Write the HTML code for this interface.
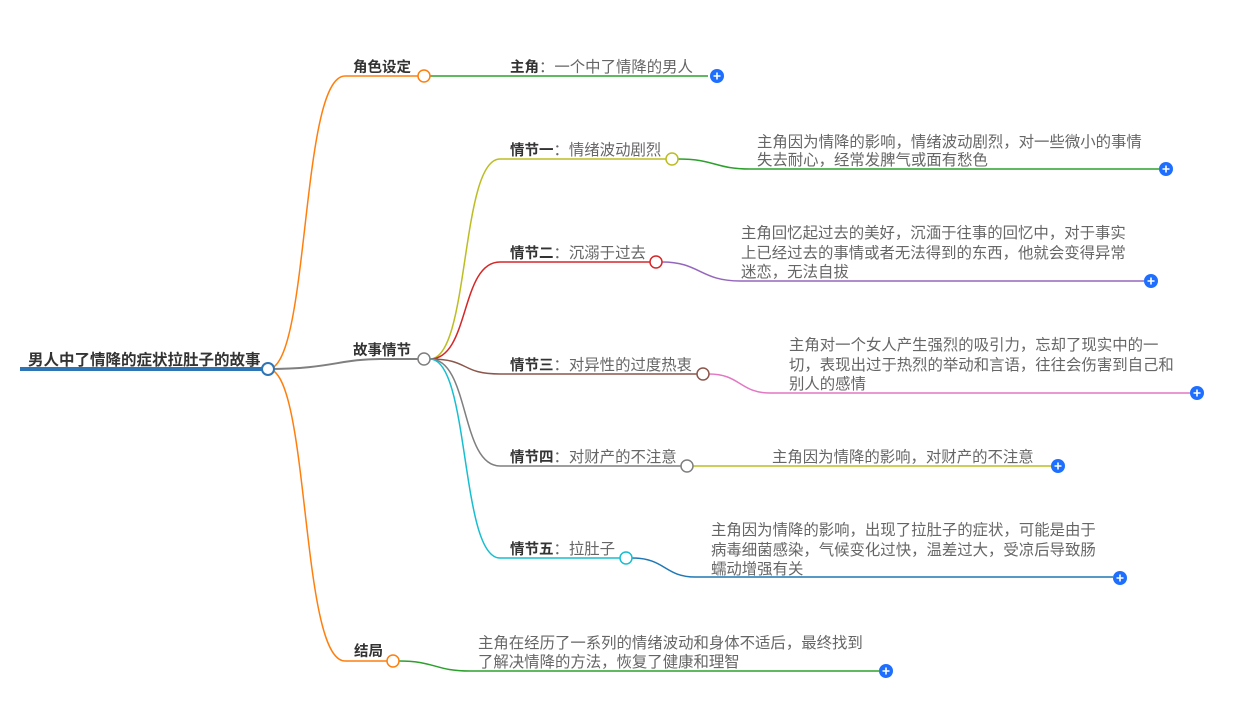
<!DOCTYPE html><html><head><meta charset="utf-8"><style>body{margin:0;background:#fff}svg{display:block}text{font-family:"Liberation Sans","Noto Sans CJK SC",sans-serif;font-size:15.4px;fill:#666}.b{font-weight:bold;fill:#333}</style></head><body>
<svg width="1245" height="713" viewBox="0 0 1245 713" xmlns="http://www.w3.org/2000/svg">
<defs><g id="p"><circle r="7" fill="#1e6fff"/><path d="M-3.5 0H3.5M0 -3.5V3.5" stroke="#fff" stroke-width="1.6"/></g></defs>
<g fill="none" stroke-width="1.5">
<path d="M268 369 C310 369 300 76 345 76 H418" stroke="#ff7f0e"/>
<path d="M268 369 C310 369 300 661 345 661 H387" stroke="#ff7f0e"/>
<path d="M268 369 C330 369 340 359 380 359 H418" stroke="#7f7f7f" stroke-width="2"/>
<path d="M430 76 H708" stroke="#2ca02c"/>
<path d="M430 359 C470 359 460 159 500 159 H666" stroke="#bcbd22"/>
<path d="M430 359 C470 359 460 262 500 262 H650" stroke="#d62728"/>
<path d="M430 359 C470 359 460 374 500 374 H697" stroke="#8c564b"/>
<path d="M430 359 C470 359 460 466 500 466 H681" stroke="#7f7f7f"/>
<path d="M430 359 C470 359 460 558 500 558 H620" stroke="#17becf"/>
<path d="M678 159 C715 159 715 169 750 169 H1159" stroke="#2ca02c"/>
<path d="M662 262 C700 262 700 281 740 281 H1144" stroke="#9467bd"/>
<path d="M709 374 C740 374 740 393 770 393 H1190" stroke="#e377c2"/>
<path d="M693 466 H1051" stroke="#bcbd22"/>
<path d="M632 558 C665 558 665 577 695 577 H1113" stroke="#1f77b4"/>
<path d="M399 661 C435 661 435 671 470 671 H879" stroke="#2ca02c"/>
<path d="M20 369 H262" stroke="#2e75b6" stroke-width="4"/>
</g>
<g fill="#fff" stroke-width="1.5">
<circle cx="268" cy="369" r="6" stroke="#2e75b6" stroke-width="2"/>
<circle cx="424" cy="76" r="6" stroke="#ff7f0e"/>
<circle cx="424" cy="359" r="6" stroke="#7f7f7f"/>
<circle cx="393" cy="661" r="6" stroke="#ff7f0e"/>
<circle cx="672" cy="159" r="6" stroke="#bcbd22"/>
<circle cx="656" cy="262" r="6" stroke="#d62728"/>
<circle cx="703" cy="374" r="6" stroke="#8c564b"/>
<circle cx="687" cy="466" r="6" stroke="#7f7f7f"/>
<circle cx="626" cy="558" r="6" stroke="#17becf"/>
</g>
<use href="#p" x="717" y="76"/><use href="#p" x="1166" y="169"/><use href="#p" x="1151" y="281"/><use href="#p" x="1197" y="393"/><use href="#p" x="1058" y="466"/><use href="#p" x="1120" y="578"/><use href="#p" x="886" y="671"/>
<text x="28" y="365" class="b" style="font-size:15.5px">男人中了情降的症状拉肚子的故事</text>
<text x="353" y="72" class="b" style="font-size:14.5px">角色设定</text>
<text x="353" y="355" class="b" style="font-size:14.5px">故事情节</text>
<text x="354" y="656" class="b" style="font-size:14.5px">结局</text>
<text x="510" y="72"><tspan class="b" style="font-size:14.5px">主角</tspan>：一个中了情降的男人</text>
<text x="510" y="155"><tspan class="b" style="font-size:14.5px">情节一</tspan>：情绪波动剧烈</text>
<text x="510" y="258"><tspan class="b" style="font-size:14.5px">情节二</tspan>：沉溺于过去</text>
<text x="510" y="370"><tspan class="b" style="font-size:14.5px">情节三</tspan>：对异性的过度热衷</text>
<text x="510" y="462"><tspan class="b" style="font-size:14.5px">情节四</tspan>：对财产的不注意</text>
<text x="510" y="554"><tspan class="b" style="font-size:14.5px">情节五</tspan>：拉肚子</text>
<text x="757" y="147">主角因为情降的影响，情绪波动剧烈，对一些微小的事情</text>
<text x="757" y="165">失去耐心，经常发脾气或面有愁色</text>
<text x="741" y="238">主角回忆起过去的美好，沉湎于往事的回忆中，对于事实</text>
<text x="741" y="258">上已经过去的事情或者无法得到的东西，他就会变得异常</text>
<text x="741" y="277">迷恋，无法自拔</text>
<text x="789" y="350">主角对一个女人产生强烈的吸引力，忘却了现实中的一</text>
<text x="789" y="370">切，表现出过于热烈的举动和言语，往往会伤害到自己和</text>
<text x="789" y="389">别人的感情</text>
<text x="772" y="462">主角因为情降的影响，对财产的不注意</text>
<text x="711" y="535">主角因为情降的影响，出现了拉肚子的症状，可能是由于</text>
<text x="711" y="555">病毒细菌感染，气候变化过快，温差过大，受凉后导致肠</text>
<text x="711" y="574">蠕动增强有关</text>
<text x="478" y="648">主角在经历了一系列的情绪波动和身体不适后，最终找到</text>
<text x="478" y="667">了解决情降的方法，恢复了健康和理智</text>
</svg></body></html>
